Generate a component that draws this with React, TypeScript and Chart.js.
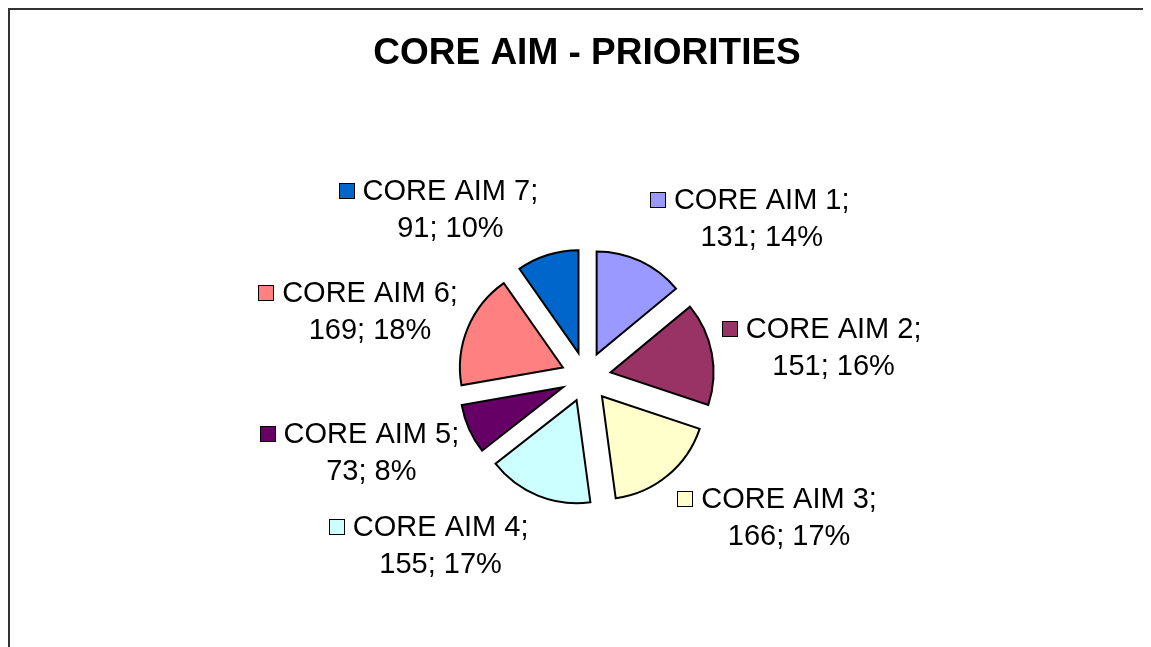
import React, { useEffect, useRef } from "react";
import { Chart, registerables } from "chart.js";

Chart.register(...registerables);

// ---- data ----
const TITLE = "CORE AIM - PRIORITIES";
const categories = [
  "CORE AIM 1",
  "CORE AIM 2",
  "CORE AIM 3",
  "CORE AIM 4",
  "CORE AIM 5",
  "CORE AIM 6",
  "CORE AIM 7",
];
const values = [131, 151, 166, 155, 73, 169, 91];
const percentLabels = ["14%", "16%", "17%", "17%", "8%", "18%", "10%"];
const colors = [
  "#9999FF",
  "#993366",
  "#FFFFCC",
  "#CCFFFF",
  "#660066",
  "#FF8080",
  "#0066CC",
];

// ---- styles ----
const FONT = '"Liberation Sans", Arial, Helvetica, sans-serif';
const EXPLODE = 25;
const PIE_RADIUS = 103;
const LABEL_FONT_SIZE = 29;
const TITLE_FONT_SIZE = 37;
const LINE_GAP = 37;
const SQ = 16;
const SQ_GAP = 8;
const H_GAP = 9;
const V_SHIFT = 50;
const V_BIAS = 4;

const explodePlugin = {
  id: "explodeSlices",
  afterDatasetUpdate(chart: any, args: any) {
    const meta = chart.getDatasetMeta(args.index);
    meta.data.forEach((arc: any) => {
      const mid = (arc.startAngle + arc.endAngle) / 2;
      arc.x += Math.cos(mid) * EXPLODE;
      arc.y += Math.sin(mid) * EXPLODE;
    });
  },
};

const labelPlugin = {
  id: "sliceLabels",
  afterDatasetsDraw(chart: any) {
    const ctx: CanvasRenderingContext2D = chart.ctx;
    const meta = chart.getDatasetMeta(0);
    ctx.save();
    ctx.font = `${LABEL_FONT_SIZE}px ${FONT}`;
    ctx.textBaseline = "middle";
    meta.data.forEach((arc: any, i: number) => {
      const mid = (arc.startAngle + arc.endAngle) / 2;
      const dx = Math.cos(mid);
      const dy = Math.sin(mid);
      const r = arc.outerRadius + 1;
      const line1 = `${categories[i]};`;
      const line2 = `${values[i]}; ${percentLabels[i]}`;
      const w1 = ctx.measureText(line1).width;
      const blockW = SQ + SQ_GAP + w1;
      const ax = arc.x + dx * r + (dx >= 0 ? H_GAP : -H_GAP);
      const left = dx >= 0 ? ax : ax - blockW;
      const cy = arc.y + dy * (r + V_SHIFT) + V_BIAS;
      const y1 = cy - LINE_GAP / 2;
      const y2 = cy + LINE_GAP / 2;
      // legend key square
      const sx = Math.round(left) + 0.5;
      const sy = Math.round(y1 - SQ / 2 - 1) + 0.5;
      ctx.fillStyle = colors[i];
      ctx.fillRect(sx, sy, SQ - 1, SQ - 1);
      ctx.strokeStyle = "#000";
      ctx.lineWidth = 1;
      ctx.strokeRect(sx, sy, SQ - 1, SQ - 1);
      // text
      ctx.fillStyle = "#000";
      const tx = left + SQ + SQ_GAP;
      ctx.textAlign = "left";
      ctx.fillText(line1, tx, y1);
      ctx.textAlign = "center";
      ctx.fillText(line2, tx + w1 / 2, y2);
    });
    ctx.restore();
  },
};

const titlePlugin = {
  id: "chartTitleText",
  afterDraw(chart: any) {
    const ctx: CanvasRenderingContext2D = chart.ctx;
    const area = chart.chartArea;
    ctx.save();
    ctx.font = `bold ${TITLE_FONT_SIZE}px ${FONT}`;
    ctx.fillStyle = "#000";
    ctx.textAlign = "center";
    ctx.textBaseline = "middle";
    ctx.fillText(TITLE, (area.left + area.right) / 2 + 1, 44);
    ctx.restore();
  },
};

export default function App() {
  const canvasRef = useRef<HTMLCanvasElement | null>(null);

  useEffect(() => {
    document.documentElement.style.overflow = "hidden";
    document.body.style.overflow = "hidden";
    const canvas = canvasRef.current;
    if (!canvas) return;
    const chart = new Chart(canvas, {
      type: "pie",
      data: {
        labels: categories,
        datasets: [
          {
            data: values,
            backgroundColor: colors,
            borderColor: "#000000",
            borderWidth: 2,
            borderJoinStyle: "miter",
            borderAlign: "center",
            radius: PIE_RADIUS,
            offset: 0,
          } as any,
        ],
      },
      options: {
        responsive: false,
        animation: false,
        events: [],
        layout: { padding: { left: 250, right: 239, top: 200, bottom: 103 } },
        plugins: {
          legend: { display: false },
          tooltip: { enabled: false },
          title: { display: false },
        },
      },
      plugins: [explodePlugin, labelPlugin, titlePlugin],
    });
    return () => chart.destroy();
  }, []);

  return (
    <div
      style={{
        width: 1143,
        height: 639,
        boxSizing: "border-box",
        borderTop: "2px solid #333",
        borderLeft: "2px solid #333",
        background: "#fff",
        overflow: "hidden",
      }}
    >
      <canvas
        ref={canvasRef}
        width={1141}
        height={637}
        style={{ display: "block", width: 1141, height: 637 }}
      />
    </div>
  );
}
